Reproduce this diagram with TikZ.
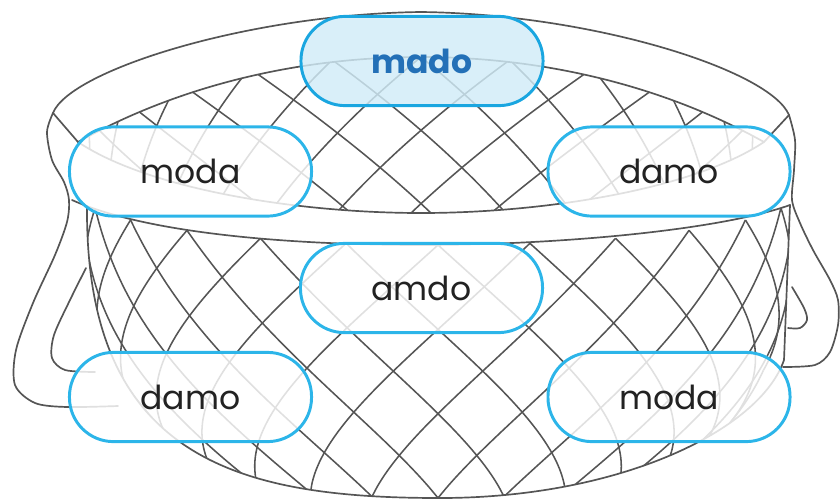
\documentclass[tikz,border=0pt]{standalone}
\usepackage{fontspec}
\setmainfont{Poppins}
\definecolor{pillblue}{HTML}{2CB5E9}
\definecolor{madoblue}{HTML}{1AA6E0}
\definecolor{madofill}{HTML}{D1ECF8}
\definecolor{madotext}{HTML}{2370B7}
\definecolor{textdark}{HTML}{222222}
\definecolor{basketgrey}{HTML}{555555}
\tikzset{
	basket/.style={draw=basketgrey, line width=1.2pt, line join=round, line cap=round},
	net/.style={draw=basketgrey, line width=1.1pt},
	pill/.style={draw=pillblue, line width=2.1pt, rounded corners=1.1cm, minimum width=6.05cm, minimum height=2.23cm, fill=white, fill opacity=0.82, text opacity=1, text=textdark, font=\fontsize{23.5}{28}\selectfont},
	madopill/.style={pill, draw=madoblue, fill=madofill, text=madotext, font=\fontsize{23.5}{28}\selectfont\bfseries},
	declare function={bodyR(\v)=355-100*\v^3; bodyC(\v)=195+263*\v; bodyB(\v)=50-10*\v;
		innR(\v)=343-60*\v; innC(\v)=142+200*\v; innB(\v)=85-20*\v;}
}

\begin{document}
\begin{tikzpicture}[x=0.025cm, y=-0.025cm]
		%%%%% START %%%%%
		\useasboundingbox (0,0) rectangle (840,502);
		
		% net of the body
		\begin{scope}
			\clip (72,200) .. controls (150,235) and (300,245) .. (421,245) .. controls (560,245) and (720,230) .. (790,205) -- (784,360) .. controls (760,430) and (620,498) .. (440,498) .. controls (240,498) and (85,460) .. (87,206) -- cycle;
			\foreach \a in {-120,-105,...,75}{
				\pgfmathsetmacro\va{max(0,(-90-\a)/45)}
				\pgfmathsetmacro\vb{min(1,(90-\a)/45)}
				\draw[net] plot[domain=\va:\vb, samples=25, smooth, variable=\v] ({438+bodyR(\v)*sin(\a+45*\v)}, {bodyC(\v)+bodyB(\v)*cos(\a+45*\v)});
			}
			\foreach \a in {-75,-60,...,120}{
				\pgfmathsetmacro\va{max(0,(\a-90)/45)}
				\pgfmathsetmacro\vb{min(1,(\a+90)/45)}
				\draw[net] plot[domain=\va:\vb, samples=25, smooth, variable=\v] ({438+bodyR(\v)*sin(\a-45*\v)}, {bodyC(\v)+bodyB(\v)*cos(\a-45*\v)});
			}
		\end{scope}
		
		% net seen through the opening
		\begin{scope}
			\clip (78,142) .. controls (180,85) and (300,57) .. (421,57) .. controls (542,57) and (662,85) .. (764,142) .. controls (692,190) and (542,213) .. (421,213) .. controls (300,213) and (150,190) .. (78,142) -- cycle;
			\foreach \a in {-120,-105,...,75}{
				\pgfmathsetmacro\va{max(0,(-90-\a)/45)}
				\pgfmathsetmacro\vb{min(1,(90-\a)/45)}
				\draw[net] plot[domain=\va:\vb, samples=25, smooth, variable=\v] ({421+innR(\v)*sin(\a+45*\v)}, {innC(\v)-innB(\v)*cos(\a+45*\v)});
			}
			\foreach \a in {-75,-60,...,120}{
				\pgfmathsetmacro\va{max(0,(\a-90)/45)}
				\pgfmathsetmacro\vb{min(1,(\a+90)/45)}
				\draw[net] plot[domain=\va:\vb, samples=25, smooth, variable=\v] ({421+innR(\v)*sin(\a-45*\v)}, {innC(\v)-innB(\v)*cos(\a-45*\v)});
			}
		\end{scope}
		
		% rim
		\draw[basket] (53,113) .. controls (70,70) and (250,14) .. (421,12) .. controls (592,14) and (770,70) .. (789,115);
		\draw[basket] (78,142) .. controls (180,85) and (300,57) .. (421,57) .. controls (542,57) and (662,85) .. (764,142);
		\draw[basket] (78,142) .. controls (150,190) and (300,213) .. (421,213) .. controls (542,213) and (692,190) .. (764,142);
		\draw[basket] (53,113) -- (78,142);
		\draw[basket] (789,115) -- (764,142);
		\draw[basket] (72,200) .. controls (150,235) and (300,245) .. (421,245) .. controls (560,245) and (720,230) .. (790,205);
		
		% body outline
		\draw[basket] (87,206) .. controls (85,460) and (240,498) .. (440,498) .. controls (620,498) and (760,430) .. (784,360) -- (790,205);
		
		% handles
		\draw[basket] plot[smooth] coordinates {(53,113) (47,132) (52,160) (64,182) (69,200) (67,222) (55,255) (33,303) (16,350) (15,385) (35,403) (67,407) (118,406)};
		\draw[basket] plot[smooth] coordinates {(86,268) (70,300) (54,335) (52,358) (65,370) (95,372)};
		\draw[basket] plot[smooth] coordinates {(789,115) (795,140) (794,170) (792,200) (800,223) (813,250) (830,280) (838,300) (838,325) (830,352) (815,365) (783,367)};
		\draw[basket] plot[smooth] coordinates {(792,287) (804,308) (807,320) (800,328) (788,328)};
		
		% words
		\node[madopill] (mado) at (422,61) {mado};
		\node[pill] (modaL) at (190.5,171.5) {moda};
		\node[pill] (damoR) at (669,171.5) {damo};
		\node[pill] (amdo) at (421.5,288) {amdo};
		\node[pill] (damoL) at (190.5,397) {damo};
		\node[pill] (modaR) at (669,397) {moda};
		
		%%%%% END %%%%%
	\end{tikzpicture}
\end{document}
